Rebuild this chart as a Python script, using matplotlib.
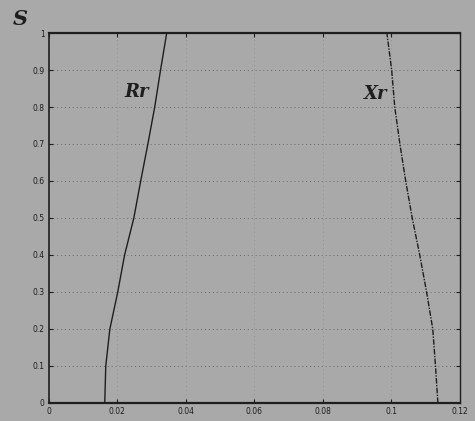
import matplotlib
matplotlib.use("Agg")
import matplotlib.pyplot as plt

s_vals = [0.0, 0.1, 0.2, 0.3, 0.4, 0.5, 0.6, 0.7, 0.8, 0.9, 1.0]
rr_vals = [0.0163, 0.0166, 0.0178, 0.0201, 0.0221, 0.0248, 0.0268, 0.0289, 0.0309, 0.0326, 0.0344]
xr_vals = [0.1136, 0.1129, 0.1121, 0.1103, 0.1083, 0.1061, 0.1042, 0.1025, 0.1010, 0.1001, 0.0987]
x_ticks = [0, 0.02, 0.04, 0.06, 0.08, 0.1, 0.12]
x_labels = ["0", "0.02", "0.04", "0.06", "0.08", "0.1", "0.12"]
y_ticks = [0, 0.1, 0.2, 0.3, 0.4, 0.5, 0.6, 0.7, 0.8, 0.9, 1.0]
y_labels = ["0", "0.1", "0.2", "0.3", "0.4", "0.5", "0.6", "0.7", "0.8", "0.9", "1"]

bg = "#a9a9a9"
ink = "#1e1e1e"
fig = plt.figure(figsize=(4.75, 4.21), dpi=100, facecolor=bg)
ax = fig.add_axes([0.103, 0.0428, 0.865, 0.8788], facecolor=bg)

ax.plot(rr_vals, s_vals, color=ink, lw=1.0)
ax.plot(xr_vals, s_vals, color=ink, lw=1.0, ls=(0, (4, 1, 1, 1)))

ax.set_xlim(0, 0.12)
ax.set_ylim(0, 1)
ax.set_xticks(x_ticks)
ax.set_xticklabels(x_labels)
ax.set_yticks(y_ticks)
ax.set_yticklabels(y_labels)
ax.tick_params(direction="in", length=3, width=0.8, colors=ink, labelsize=5.5,
               top=True, right=True, pad=3)
ax.grid(True, axis="y", ls=(0, (1, 3)), color="#6a6a6a", lw=0.7)
ax.grid(True, axis="x", ls=(0, (1, 4)), color="#8a8a8a", lw=0.6)
for sp in ax.spines.values():
    sp.set_color(ink)
    sp.set_linewidth(1.0)
ax.spines["top"].set_linewidth(1.6)
ax.spines["bottom"].set_linewidth(1.6)
ax.spines["left"].set_linewidth(1.2)

fig.text(0.042, 0.955, "S", fontsize=15, fontweight="bold", fontstyle="italic",
         family="DejaVu Serif", color=ink, ha="center", va="center")
ax.text(0.0257, 0.84, "Rr", fontsize=13, fontweight="bold", fontstyle="italic",
        family="DejaVu Serif", color=ink, ha="center", va="center")
ax.text(0.0955, 0.835, "Xr", fontsize=13, fontweight="bold", fontstyle="italic",
        family="DejaVu Serif", color=ink, ha="center", va="center")

fig.savefig("out.png", dpi=100, facecolor=bg)
